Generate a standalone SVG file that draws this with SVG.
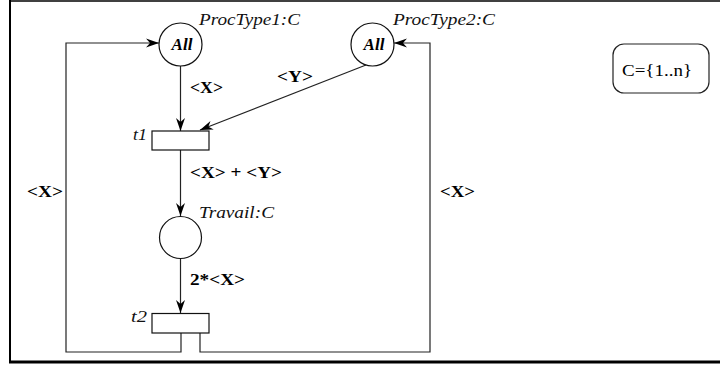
<svg xmlns="http://www.w3.org/2000/svg" width="720" height="367" viewBox="0 0 720 367">
  <style>
    .frame { stroke: #000; fill: none; }
    .place { fill: #fff; stroke: #111; stroke-width: 1.2; }
    .trans { fill: #fff; stroke: #111; stroke-width: 1.2; }
    .arc { fill: none; stroke: #222; stroke-width: 1.2; }
    text { font-family: "Liberation Serif", "DejaVu Serif", Tinos, serif; }
    .name { font-style: italic; font-size: 16px; fill: #111; }
    .mark { font-style: italic; font-weight: bold; font-size: 17px; fill: #000; }
    .insc { font-weight: bold; font-size: 16px; fill: #000; }
    .decl { font-size: 17px; fill: #000; }
  </style>
  <defs>
    <marker id="arr" markerWidth="14" markerHeight="10" viewBox="-14 -5 14 10" refX="0" refY="0" orient="auto" markerUnits="userSpaceOnUse">
      <path d="M0,0 L-13,-4.5 L-9,0 L-13,4.5 Z" fill="#000"/>
    </marker>
  </defs>

  <rect width="720" height="367" fill="#fff"/>

  <!-- page frame: left, top, bottom -->
  <g class="frame">
    <line x1="10" y1="0" x2="10" y2="363" stroke-width="2"/>
    <line x1="9" y1="1" x2="720" y2="1" stroke-width="1.5"/>
    <line x1="9" y1="362" x2="720" y2="362" stroke-width="3"/>
  </g>

  <!-- arcs -->
  <g id="connectors">
    <line class="arc" x1="180.5" y1="66" x2="180.5" y2="131" marker-end="url(#arr)"/>
    <line class="arc" x1="366" y1="65" x2="200" y2="130" marker-end="url(#arr)"/>
    <line class="arc" x1="180.5" y1="150" x2="180.5" y2="216" marker-end="url(#arr)"/>
    <line class="arc" x1="180.5" y1="258" x2="180.5" y2="313" marker-end="url(#arr)"/>
    <path class="arc" d="M181,333 V352 H66 V43 H159" marker-end="url(#arr)"/>
    <path class="arc" d="M200,333 V352 H430 V43 H394" marker-end="url(#arr)"/>
    <text class="insc" x="190" y="93" textLength="33" lengthAdjust="spacingAndGlyphs">&lt;X&gt;</text>
    <text class="insc" x="277" y="82" textLength="36" lengthAdjust="spacingAndGlyphs">&lt;Y&gt;</text>
    <text class="insc" x="190" y="178" textLength="92" lengthAdjust="spacingAndGlyphs">&lt;X&gt; + &lt;Y&gt;</text>
    <text class="insc" x="190" y="285" textLength="55" lengthAdjust="spacingAndGlyphs">2*&lt;X&gt;</text>
    <text class="insc" x="27" y="197" textLength="36" lengthAdjust="spacingAndGlyphs">&lt;X&gt;</text>
    <text class="insc" x="440" y="197" textLength="35" lengthAdjust="spacingAndGlyphs">&lt;X&gt;</text>
  </g>

  <!-- places -->
  <g id="proctype1">
    <circle class="place" cx="180.5" cy="44.5" r="21.5"/>
    <text class="mark" x="182" y="50" text-anchor="middle">All</text>
    <text class="name" x="199" y="25" textLength="101" lengthAdjust="spacingAndGlyphs">ProcType1:C</text>
  </g>
  <g id="proctype2">
    <circle class="place" cx="372.5" cy="44.5" r="21.5"/>
    <text class="mark" x="374" y="50" text-anchor="middle">All</text>
    <text class="name" x="393" y="25" textLength="102" lengthAdjust="spacingAndGlyphs">ProcType2:C</text>
  </g>
  <g id="travail">
    <circle class="place" cx="180.5" cy="237.5" r="21"/>
    <text class="name" x="199" y="218" textLength="75" lengthAdjust="spacingAndGlyphs">Travail:C</text>
  </g>

  <!-- transitions -->
  <g id="t1">
    <rect class="trans" x="152" y="131" width="57" height="19"/>
    <text class="name" x="133" y="140" textLength="14" lengthAdjust="spacingAndGlyphs">t1</text>
  </g>
  <g id="t2">
    <rect class="trans" x="152" y="313.5" width="57" height="19.5"/>
    <text class="name" x="131" y="322" textLength="16" lengthAdjust="spacingAndGlyphs">t2</text>
  </g>

  <!-- colour set declaration -->
  <g id="declaration">
    <rect x="613" y="44" width="96" height="49" rx="11" ry="11" fill="#fff" stroke="#222" stroke-width="1.2"/>
    <text class="decl" x="622" y="76" textLength="70" lengthAdjust="spacingAndGlyphs">C={1..n}</text>
  </g>
</svg>
